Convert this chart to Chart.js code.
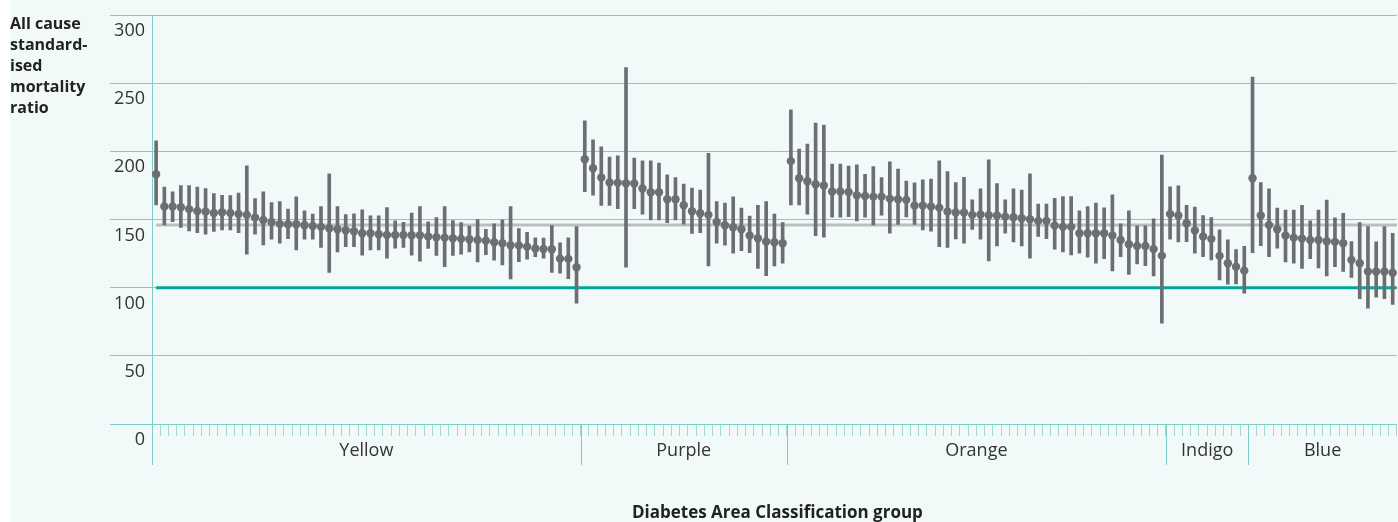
<!DOCTYPE html>
<html>
<head>
<meta charset="utf-8">
<script src="https://cdn.jsdelivr.net/npm/chart.js@4.4.1/dist/chart.umd.min.js"></script>
<style>
  html, body { margin: 0; padding: 0; background: #ffffff; overflow: hidden; }
  #wrap { width: 1398px; height: 522px; overflow: hidden; }
</style>
</head>
<body>
<div id="wrap"><canvas id="smrChart" width="1401" height="522"></canvas></div>
<script>
// group names, in the order they appear along the x axis
const groupNames = ["Yellow", "Purple", "Orange", "Indigo", "Blue"];

// standardised mortality ratio per area (dot) with its confidence interval
const yellowMid = [183.2, 159.5, 159.5, 159, 157.6, 156.3, 155.8, 154.8, 155.3, 154.8, 154.1, 153.4, 151.4, 149.7, 148.2, 146.8, 146.5, 146.5, 145.8, 145.3, 144.6, 143.6, 142.8, 142.1, 141.4, 139.9, 139.9, 139.2, 138.7, 138.7, 138.7, 138.5, 138.5, 137.5, 137, 136.7, 136.2, 135.8, 135.5, 135, 134.5, 133.3, 132.6, 131.1, 131, 130.1, 128.7, 128.4, 128.2, 121.3, 121.1, 115];
const yellowLow = [160.7, 146, 148.5, 144.1, 141.6, 140.4, 139.2, 141.2, 142.4, 142.4, 140.4, 124.5, 139.2, 131.3, 135.5, 132.6, 136, 127.7, 135.5, 135.5, 129.6, 111.1, 126.2, 130, 130, 123.8, 127.7, 127.7, 121.6, 128.9, 129.6, 123.8, 119.4, 128.7, 123.6, 115.4, 123.6, 124.5, 126.2, 118.9, 124.2, 120.1, 116.7, 106.4, 119.1, 120.9, 122.8, 121.6, 111.1, 110.6, 106.6, 88.6];
const yellowHigh = [207.7, 173.7, 170.3, 174.9, 174.9, 173.7, 172.7, 169, 167.8, 167.5, 169.3, 189.3, 165.3, 170.3, 162.4, 163.2, 157.6, 166.6, 156.3, 153.9, 159.5, 183.5, 159.5, 153.7, 154.2, 157.1, 152.7, 152.7, 158.7, 149, 148, 154.8, 159.5, 148.2, 151.4, 159.5, 149.2, 147.7, 145.1, 149.9, 142.8, 146.8, 149.7, 159.5, 143.3, 140.6, 136.5, 136.3, 145.5, 132.8, 136.5, 144.8];

const purpleMid = [194.2, 187.6, 180.8, 177.1, 176.9, 176.6, 176.4, 172.7, 170, 170, 164.9, 164.9, 160.4, 156.1, 154.6, 153.4, 148.2, 145.8, 144.3, 142.8, 138.2, 136.3, 133.8, 133.3, 132.6];
const purpleLow = [170.5, 167.8, 160.4, 160.4, 158, 115, 158, 153.9, 149.7, 149.7, 147.7, 149.7, 146.5, 139.7, 140.4, 115.9, 132.6, 131.1, 125.3, 127.2, 125.7, 114.2, 108.8, 115.9, 117.9];
const purpleHigh = [222.4, 208.4, 203.3, 195.7, 196.7, 261.5, 195, 193, 193, 191.3, 182.7, 180.8, 175.9, 173, 171.5, 198.6, 163.1, 162, 166.6, 158.3, 152.6, 160.4, 163.1, 153.9, 147.7];

const orangeMid = [192.8, 180.3, 178.1, 175.9, 174.9, 170.5, 170.5, 170.2, 167.8, 167.3, 166.8, 166.8, 165.3, 164.9, 164.4, 160.2, 160.2, 159.5, 158.7, 155.8, 155.1, 155.1, 153.4, 153.6, 153.1, 152.9, 152.1, 151.7, 150.9, 150.2, 149, 149, 145.5, 144.6, 144.6, 139.9, 139.9, 139.9, 139.9, 138.2, 135, 131.9, 130.6, 130.6, 128.4, 123.5];
const orangeLow = [160.7, 160.7, 153.9, 138.2, 137, 151.7, 151.7, 152.1, 149, 151.7, 146, 153.2, 139.9, 146.3, 151.9, 146.3, 142.4, 141.4, 130.1, 129.6, 135.8, 132.6, 142.8, 135.5, 119.7, 130.6, 139.9, 133.6, 130.6, 121.6, 137.5, 136, 128.2, 126.2, 124, 125.3, 122.3, 117.9, 121.3, 112.3, 122.8, 109.8, 117.4, 116.2, 108.6, 73.9];
const orangeHigh = [230.4, 201.6, 205.3, 220.7, 219.2, 190.6, 190.6, 189.1, 190.1, 183.2, 188.8, 180.8, 192.3, 186.9, 178.1, 176.9, 179.1, 179.6, 193, 185.2, 177.1, 181, 164.4, 172.5, 193.7, 176.4, 164.4, 172.5, 171.5, 183.5, 161.4, 161.4, 165.6, 166.8, 166.8, 156.3, 159.5, 162, 158.5, 168.1, 146.8, 156.3, 145.3, 145.3, 150.4, 197.2];

const indigoMid = [154.1, 152.9, 147.3, 141.9, 137.5, 135.8, 123.3, 117.9, 115.4, 112.5];
const indigoLow = [135.5, 133.6, 133.8, 125.3, 122.8, 120.4, 105.7, 102.5, 102.7, 95.9];
const indigoHigh = [173.9, 174.7, 160.4, 159.2, 152.9, 151.4, 142.4, 135, 127.9, 130.4];

const blueMid = [180.3, 152.9, 146, 142.8, 138.2, 136.7, 136, 135, 135, 134.1, 133.6, 132.6, 120.4, 117.9, 111.8, 111.8, 111.8, 111];
const blueLow = [125.7, 130.8, 122.8, 128.9, 118.9, 117.9, 114.2, 121.3, 114.5, 108.6, 115.4, 112, 107.6, 92, 84.9, 93, 92, 87.8];
const blueHigh = [254.4, 177.1, 172.5, 158.3, 157, 157, 160.4, 149, 157, 164.2, 151.2, 154.6, 133.8, 147.7, 144.8, 133.6, 144.8, 139.9];

// horizontal reference levels
const englandSMR = 100;
const overallSMR = 146;

const yTicks = [0, 50, 100, 150, 200, 250, 300];
const yTitleLines = ["All cause", "standard-", "ised", "mortality", "ratio"];
const xTitle = "Diabetes Area Classification group";

const groupMids = [yellowMid, purpleMid, orangeMid, indigoMid, blueMid];
const groupLows = [yellowLow, purpleLow, orangeLow, indigoLow, blueLow];
const groupHighs = [yellowHigh, purpleHigh, orangeHigh, indigoHigh, blueHigh];

const labels = [];
const groupStart = [];
groupMids.forEach((arr, g) => {
    groupStart.push(labels.length);
    arr.forEach((v, i) => labels.push(groupNames[g] + " " + (i + 1)));
});
const mids = groupMids.flat();
const highs = groupHighs.flat();
const ranges = groupLows.flat().map((lo, i) => [lo, highs[i]]);

const MINT = "#f2faf9";
const GRID = "#7fcdc8";
const TICK = "#9dd9d5";
const DOT = "#6d6e71";
const FONT = "'Open Sans', 'Noto Sans', sans-serif";

const chartDecor = {
    id: "chartDecor",
    beforeDraw(chart) {
        const ctx = chart.ctx;
        ctx.save();
        ctx.fillStyle = MINT;
        ctx.fillRect(10, 0, chart.width - 10, chart.height);
        ctx.restore();
    },
    beforeDatasetsDraw(chart) {
        const { ctx, chartArea, scales } = chart;
        const x0 = scales.x.getPixelForValue(0);
        ctx.save();
        ctx.lineWidth = 3;
        ctx.strokeStyle = "#bcbdbf";
        let y = scales.y.getPixelForValue(overallSMR);
        ctx.beginPath(); ctx.moveTo(x0, y); ctx.lineTo(chartArea.right, y); ctx.stroke();
        ctx.strokeStyle = "#00a69c";
        y = scales.y.getPixelForValue(englandSMR);
        ctx.beginPath(); ctx.moveTo(x0, y); ctx.lineTo(chartArea.right, y); ctx.stroke();
        ctx.restore();
    },
    afterDraw(chart) {
        const { ctx, chartArea, scales } = chart;
        const xs = scales.x;
        const bottom = chartArea.bottom;
        const step = xs.getPixelForValue(1) - xs.getPixelForValue(0);
        ctx.save();
        ctx.strokeStyle = GRID;
        ctx.lineWidth = 1;
        // axis line carries on down past the group labels
        const lx = Math.round(chartArea.left) + 0.5;
        ctx.beginPath(); ctx.moveTo(lx, bottom); ctx.lineTo(lx, bottom + 41); ctx.stroke();
        // separators between groups
        groupStart.slice(1).forEach(i => {
            const sx = Math.round(xs.getPixelForValue(i) - step / 2) + 0.5;
            ctx.beginPath(); ctx.moveTo(sx, bottom); ctx.lineTo(sx, bottom + 41); ctx.stroke();
        });
        // group names
        ctx.fillStyle = "#333333";
        ctx.font = "18px " + FONT;
        ctx.textAlign = "center";
        ctx.textBaseline = "alphabetic";
        groupNames.forEach((name, g) => {
            const first = groupStart[g];
            const last = first + groupMids[g].length - 1;
            const a = xs.getPixelForValue(first) - step / 2;
            const b = xs.getPixelForValue(last) + step / 2;
            ctx.fillText(name, (a + b) / 2, bottom + 32);
        });
        // axis titles
        ctx.fillStyle = "#222222";
        ctx.font = "bold 17px " + FONT;
        ctx.fillText(xTitle, (chartArea.left + chartArea.right) / 2 + 3, 518);
        ctx.font = "bold 16px " + FONT;
        ctx.textAlign = "left";
        yTitleLines.forEach((line, i) => ctx.fillText(line, 10, 29 + i * 21));
        ctx.restore();
    }
};

new Chart(document.getElementById("smrChart"), {
    data: {
        labels: labels,
        datasets: [
            {
                type: "line",
                label: "SMR",
                data: mids,
                showLine: false,
                pointRadius: 4.2,
                pointBorderWidth: 0,
                pointBackgroundColor: DOT,
                order: 0
            },
            {
                type: "bar",
                label: "95% CI",
                data: ranges,
                backgroundColor: DOT,
                barThickness: 3,
                order: 1
            }
        ]
    },
    options: {
        responsive: false,
        animation: false,
        events: [],
        layout: { padding: { left: 110, top: 15, right: 0, bottom: 0 } },
        plugins: { legend: { display: false }, tooltip: { enabled: false } },
        scales: {
            x: {
                type: "category",
                offset: true,
                grid: { offset: true, drawOnChartArea: false, drawTicks: true, tickLength: 12, color: TICK },
                border: { display: false },
                ticks: { display: false, autoSkip: false },
                afterFit: s => { s.height = 98; }
            },
            y: {
                min: 0,
                max: 300,
                afterBuildTicks: s => { s.ticks = yTicks.map(v => ({ value: v })); },
                grid: { color: GRID, lineWidth: 1, drawTicks: true, tickLength: 42 },
                border: { display: true, color: GRID },
                ticks: { padding: -35, labelOffset: 16, color: "#333333", font: { size: 18, family: FONT } },
                afterFit: s => { s.width = 42; }
            }
        }
    },
    plugins: [chartDecor]
});
</script>
</body>
</html>
